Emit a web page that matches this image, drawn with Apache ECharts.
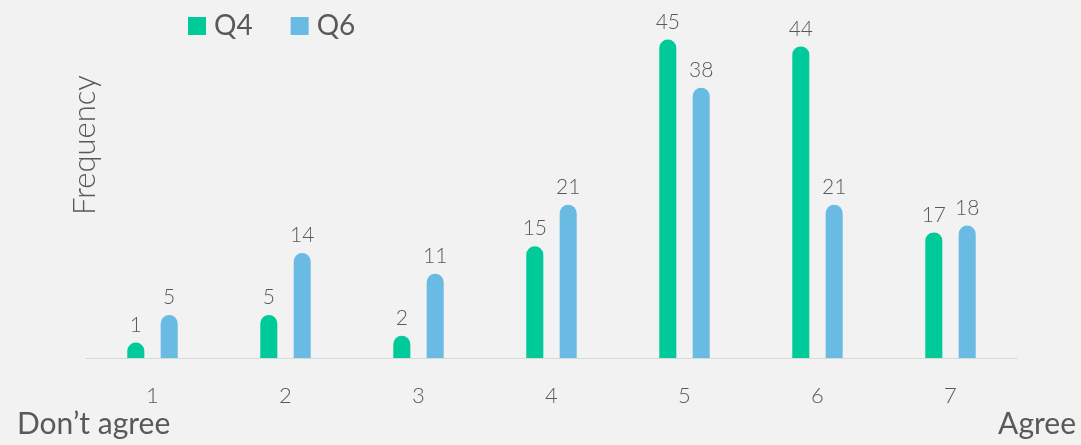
<!DOCTYPE html>
<html>
<head>
<meta charset="utf-8">
<script src="https://cdn.jsdelivr.net/npm/echarts@6/dist/echarts.min.js"></script>
<style>
  html, body { margin: 0; padding: 0; background: #f2f2f2; }
  #chart { width: 1081px; height: 445px; }
</style>
</head>
<body>
<div id="chart"></div>
<script>
// Response scale (1 = don't agree ... 7 = agree)
const categories = ['1', '2', '3', '4', '5', '6', '7'];
const seriesNames = ['Q4', 'Q6'];
const q4Values = [1, 5, 2, 15, 45, 44, 17];
const q6Values = [5, 14, 11, 21, 38, 21, 18];

const colors = ['#00c99a', '#6abbe3'];
const FONT = 'Lato, "Noto Sans", sans-serif';
const TEXT = '#595959';

// Rounded-top bar: the body spans 0..value, a half-round cap sits on top
function makeRenderer(side, color) {
  return function (params, api) {
    const idx = api.value(0);
    const val = api.value(1);
    const base = api.coord([idx, 0]);
    const top = api.coord([idx, val]);
    const band = api.size([1, 0])[0];
    const w = band * 0.128;
    const r = w / 2;
    const cx = base[0] + side * band * 0.1255;
    return {
      type: 'group',
      children: [
        {
          type: 'rect',
          shape: { x: cx - r, y: top[1] - r, width: w, height: base[1] - top[1] + r, r: [r, r, 0, 0] },
          style: { fill: color }
        },
        {
          type: 'text',
          x: cx,
          y: top[1] - r - 7,
          style: {
            text: String(val),
            fill: TEXT,
            font: '300 21px ' + FONT,
            align: 'center',
            verticalAlign: 'bottom'
          }
        }
      ]
    };
  };
}

const chart = echarts.init(document.getElementById('chart'), null, { renderer: 'canvas' });

chart.setOption({
  backgroundColor: '#f2f2f2',
  animation: false,
  grid: { left: 86, right: 64, top: 48, bottom: 87, containLabel: false },
  legend: {
    data: seriesNames,
    left: 188,
    top: 12,
    padding: 0,
    icon: 'rect',
    itemWidth: 18,
    itemHeight: 18,
    itemGap: 38,
    textStyle: { color: TEXT, fontFamily: FONT, fontWeight: 400, fontSize: 28, padding: [0, 0, 0, 3] }
  },
  xAxis: {
    type: 'category',
    data: categories,
    axisLine: { lineStyle: { color: '#d9d9d9', width: 1 } },
    axisTick: { show: false },
    axisLabel: { color: TEXT, fontFamily: FONT, fontWeight: 300, fontSize: 22, margin: 27 }
  },
  yAxis: {
    type: 'value',
    min: 0,
    max: 45,
    show: false
  },
  series: [
    {
      name: seriesNames[0],
      type: 'custom',
      itemStyle: { color: colors[0] },
      encode: { x: 0, y: 1 },
      data: q4Values.map((v, i) => [i, v]),
      renderItem: makeRenderer(-1, colors[0])
    },
    {
      name: seriesNames[1],
      type: 'custom',
      itemStyle: { color: colors[1] },
      encode: { x: 0, y: 1 },
      data: q6Values.map((v, i) => [i, v]),
      renderItem: makeRenderer(1, colors[1])
    }
  ],
  graphic: [
    {
      type: 'text',
      x: 85,
      y: 145,
      rotation: Math.PI / 2,
      style: { text: 'Frequency', fill: TEXT, font: '300 31px ' + FONT, align: 'center', verticalAlign: 'middle' }
    },
    {
      type: 'text',
      left: 17,
      top: 409,
      style: { text: 'Don\u2019t agree', fill: TEXT, font: '400 30px ' + FONT }
    },
    {
      type: 'text',
      right: 5,
      top: 409,
      style: { text: 'Agree', fill: TEXT, font: '400 30px ' + FONT }
    }
  ]
});
</script>
</body>
</html>
